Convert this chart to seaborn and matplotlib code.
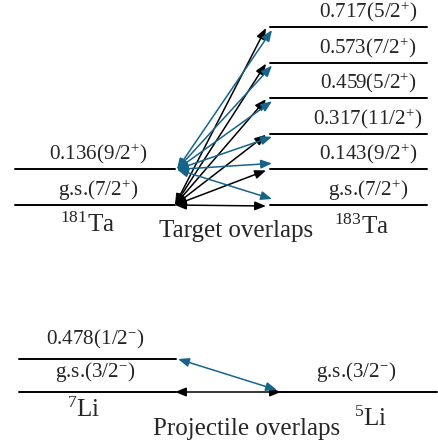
import matplotlib
matplotlib.use("Agg")
import matplotlib.pyplot as plt
import seaborn as sns
import pandas as pd

# ---------------- data ----------------
ta181_energy = ["g.s.", "0.136"]
ta181_spin = ["7/2$^{+}$", "9/2$^{+}$"]
ta183_energy = ["g.s.", "0.143", "0.317", "0.459", "0.573", "0.717"]
ta183_spin = ["7/2$^{+}$", "9/2$^{+}$", "11/2$^{+}$", "5/2$^{+}$", "7/2$^{+}$", "5/2$^{+}$"]
li7_energy = ["g.s.", "0.478"]
li7_spin = ["3/2$^{-}$", "1/2$^{-}$"]
li5_energy = ["g.s."]
li5_spin = ["3/2$^{-}$"]

# overlaps (source level index -> destination level index)
ta_src = [0, 0, 0, 0, 0, 0, 1, 1, 1, 1, 1, 1]
ta_dst = [0, 1, 2, 3, 4, 5, 0, 1, 2, 3, 4, 5]
li_src = [0, 1]
li_dst = [0, 0]

nucleus_labels = ["$^{181}$Ta", "$^{183}$Ta", "$^{7}$Li", "$^{5}$Li"]
panel_titles = ["Target overlaps", "Projectile overlaps"]

# ---------------- style ----------------
sns.set_theme(style="white")
plt.rcParams["font.family"] = ["Liberation Serif", "DejaVu Serif"]
plt.rcParams["mathtext.fontset"] = "custom"
plt.rcParams["mathtext.rm"] = "Liberation Serif"
plt.rcParams["mathtext.it"] = "Liberation Serif:italic"
plt.rcParams["mathtext.bf"] = "Liberation Serif:bold"

BLUE = "#17648a"
BLACK = "black"
LVL_FS = 15.2
NAME_FS = 18

fig = plt.figure(figsize=(4.38, 4.47), dpi=100)
ax = fig.add_axes([0, 0, 1, 1])

# layout (pixel-like coordinates of the schematic)
TA_BASE, TA_STEP = 205.0, 35.6
LI_BASE, LI_STEP = 392.0, 33.0
def ypos(base, step, n):
    return [base - step * i for i in range(n)]

y181 = ypos(TA_BASE, TA_STEP, len(ta181_energy))
y183 = ypos(TA_BASE, TA_STEP, len(ta183_energy))
y7 = ypos(LI_BASE, LI_STEP, len(li7_energy))
y5 = ypos(LI_BASE, LI_STEP, len(li5_energy))

L_X = (15, 175)
R_X_TA = (270, 427)
L_X_LI = (19, 176)
R_X_LI = (275, 437)

rows = []
def add_levels(name, ys, xr):
    for i, y in enumerate(ys):
        rows.append(dict(level=f"{name}{i}", x=xr[0], y=y))
        rows.append(dict(level=f"{name}{i}", x=xr[1], y=y))
add_levels("ta181_", y181, L_X)
add_levels("ta183_", y183, R_X_TA)
add_levels("li7_", y7, L_X_LI)
add_levels("li5_", y5, R_X_LI)
df = pd.DataFrame(rows)
sns.lineplot(data=df, x="x", y="y", units="level", estimator=None,
             color=BLACK, lw=1.4, sort=False, ax=ax, legend=False)
ax.set_xlim(0, 438)
ax.set_ylim(447, 0)
ax.axis("off")

def lab(e, s):
    return f"{e}({s})"

# level labels
for e, s, y in zip(ta181_energy, ta181_spin, y181):
    ax.text(98, y - 15, lab(e, s), ha="center", va="center", fontsize=LVL_FS)
for e, s, y in zip(ta183_energy, ta183_spin, y183):
    ax.text(368, y - 15, lab(e, s), ha="center", va="center", fontsize=LVL_FS)
for e, s, y in zip(li7_energy, li7_spin, y7):
    ax.text(95, y - 20, lab(e, s), ha="center", va="center", fontsize=LVL_FS)
for e, s, y in zip(li5_energy, li5_spin, y5):
    ax.text(356, y - 20, lab(e, s), ha="center", va="center", fontsize=LVL_FS)

# nucleus names and panel titles
ax.text(88, 225, nucleus_labels[0], ha="center", va="center", fontsize=NAME_FS)
ax.text(362, 227, nucleus_labels[1], ha="center", va="center", fontsize=NAME_FS)
ax.text(236, 231, panel_titles[0], ha="center", va="center", fontsize=NAME_FS)
ax.text(84, 410, nucleus_labels[2], ha="center", va="center", fontsize=NAME_FS)
ax.text(371, 419, nucleus_labels[3], ha="center", va="center", fontsize=NAME_FS)
ax.text(247, 429, panel_titles[1], ha="center", va="center", fontsize=NAME_FS)

AST = "<|-|>,head_length=0.55,head_width=0.22"
def arrow(p0, p1, color):
    ax.annotate("", xy=p1, xytext=p0,
                arrowprops=dict(arrowstyle=AST, color=color, lw=1.1,
                                mutation_scale=12, shrinkA=0, shrinkB=0))

# target overlaps
for s, d in zip(ta_src, ta_dst):
    ys, yd = y181[s], y183[d]
    if s == 0:
        arrow((175, ys), (266, yd + 1), BLACK)
    else:
        end_y = yd + 3 if yd < ys else yd - 6
        arrow((177, ys), (272, end_y), BLUE)

# projectile overlaps
for s, d in zip(li_src, li_dst):
    ys, yd = y7[s], y5[d]
    if s == 0:
        arrow((175, ys), (281, yd), BLACK)
    else:
        arrow((178, ys), (277, yd - 2), BLUE)

fig.savefig("out.png", dpi=100)
